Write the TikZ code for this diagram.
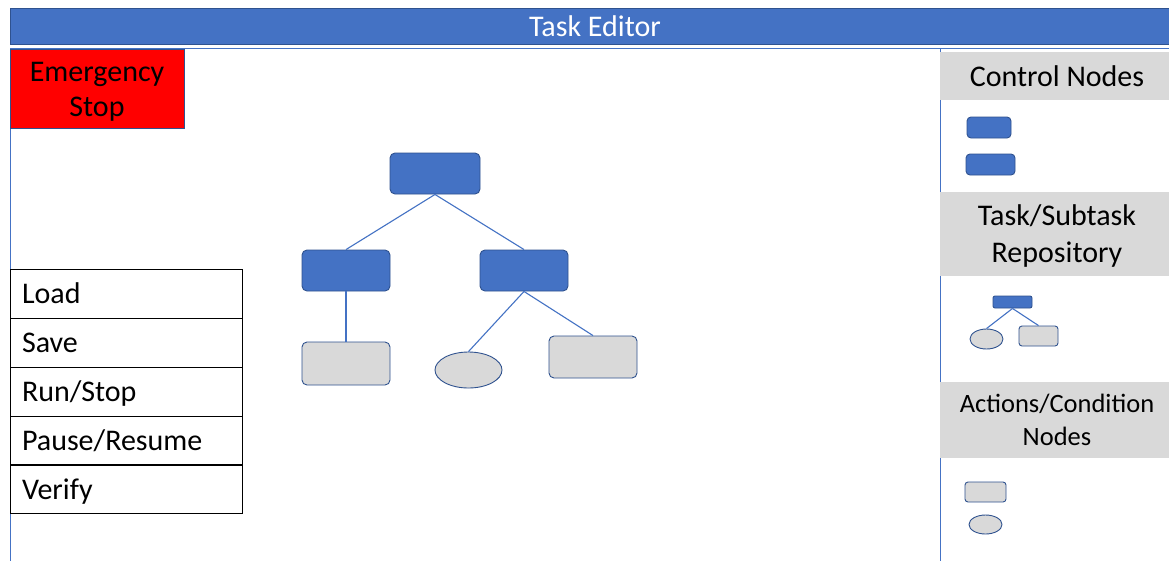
\documentclass[tikz,border=0pt]{standalone}
\usepackage{fontspec}
\setmainfont{Carlito}
\usetikzlibrary{shapes.geometric}
\definecolor{accent}{HTML}{4472C4}
\definecolor{accentdark}{HTML}{2F528F}
\definecolor{panelgray}{HTML}{D9D9D9}
\definecolor{alarm}{HTML}{FF0000}
\tikzset{
  box/.style={draw=accentdark, line width=0.9pt, inner sep=0pt},
  ctrl/.style={box, fill=accent, rounded corners=5pt},
  leaf/.style={box, fill=panelgray, rounded corners=5pt},
  cond/.style={box, fill=panelgray, ellipse},
  link/.style={draw=accent, line width=1.1pt},
  header/.style={fill=panelgray, inner sep=0pt, minimum width=234, align=center,
                 font=\fontsize{30}{37}\selectfont},
  cmd/.style={draw=black, line width=1pt, minimum width=232, minimum height=49,
              inner sep=0pt, text width=208, align=left, text height=24, text depth=4,
              font=\fontsize{30}{36}\selectfont}
}
\begin{document}
\begin{tikzpicture}[x=1pt, y=-1pt]
\useasboundingbox (0,0) rectangle (1169,560);
\clip (0,0) rectangle (1169,560);
\fill[white] (0,0) rectangle (1169,560);

% editor frame and title bar
\draw[accent, line width=1pt] (10,48) rectangle (1180,570);
\node[fill=accent, draw=accentdark, line width=1pt, minimum width=1170, minimum height=36,
      inner sep=0pt, text=white, font=\fontsize{30}{36}\selectfont] (title) at (595,26) {Task Editor};

% emergency stop button and its caption
\node[fill=alarm, draw=accentdark, line width=1pt, minimum width=174, minimum height=79,
      inner sep=0pt] (estop) at (97,88.5) {};
\node[inner sep=0pt, align=center, font=\fontsize{30}{35}\selectfont] (estoptext)
      at ([yshift=-3pt]estop.center) {Emergency\\Stop};

% right-hand palette
\draw[accent, line width=1pt] (940,48) -- (940,570);
\node[header, minimum height=48] (hctrl) at (1057,76) {Control Nodes};
\node[header, minimum height=84] (hrepo) at (1057,234) {\rule{0pt}{24pt}Task/Subtask\\Repository};
\node[header, minimum height=76, font=\fontsize{26.5}{33}\selectfont] (hact) at (1057,420)
      {Actions/Condition\\Nodes};

\node[ctrl, minimum width=44, minimum height=21, rounded corners=4pt] (pc1) at (989,127.5) {};
\node[ctrl, minimum width=49, minimum height=21, rounded corners=4pt] (pc2) at (990.5,164.5) {};

\node[ctrl, minimum width=39, minimum height=12, rounded corners=2pt] (rtop) at (1012.5,302) {};
\node[cond, minimum width=33, minimum height=20] (rell) at (986.5,339) {};
\node[leaf, minimum width=39, minimum height=20, rounded corners=3pt] (rrect) at (1038.5,336) {};
\draw[link] (rtop.south) -- (rell.north);
\draw[link] (rtop.south) -- (rrect.north);

\node[leaf, minimum width=41, minimum height=20, rounded corners=3pt] (aact) at (985.5,492) {};
\node[cond, minimum width=33, minimum height=19] (acond) at (985.5,524.5) {};

% command list
\node[cmd] (load)   at (126,293.5) {Load};
\node[cmd] (save)   at (126,342.5) {Save};
\node[cmd] (run)    at (126,391.5) {Run/Stop};
\node[cmd] (pause)  at (126,440.5) {Pause/Resume};
\node[cmd] (verify) at (126,489)   {Verify};

% behaviour tree
\node[ctrl, minimum width=90, minimum height=41] (root) at (435,173.5) {};
\node[ctrl, minimum width=88, minimum height=41] (seqL) at (346,270.5) {};
\node[ctrl, minimum width=88, minimum height=41] (seqR) at (524,270.5) {};
\node[leaf, minimum width=88, minimum height=43] (actL) at (346,363.5) {};
\node[cond, minimum width=67, minimum height=36] (condM) at (468.5,370) {};
\node[leaf, minimum width=88, minimum height=42] (actR) at (593,357) {};

\draw[link] (root.south) -- (seqL.north);
\draw[link] (root.south) -- (seqR.north);
\draw[link] (seqL.south) -- (actL.north);
\draw[link] (seqR.south) -- (condM.north);
\draw[link] (seqR.south) -- (actR.north);
\end{tikzpicture}
\end{document}
